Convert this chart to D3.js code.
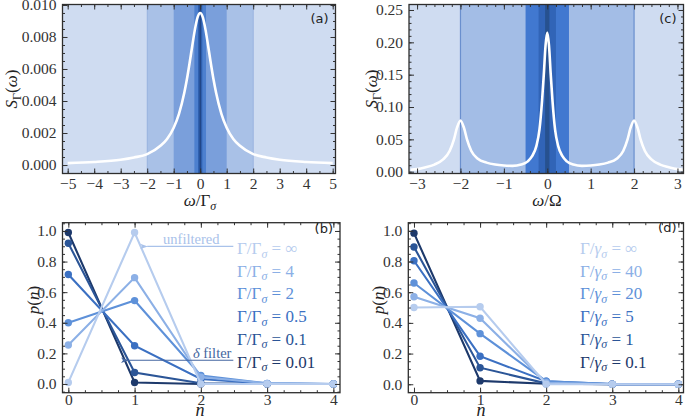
<!DOCTYPE html>
<html><head><meta charset="utf-8">
<script src="https://cdn.jsdelivr.net/npm/d3@7"></script>
<style>body{margin:0;background:#fff}svg{display:block}</style>
</head><body><svg id="c" width="685" height="419"></svg>
<script>
// ---------- DATA ----------
// Panel (a): filtered spectrum
const specAOmega = [-5,-4,-3,-2.5,-2,-1.5,-1.25,-1,-0.8,-0.6,-0.5,-0.4,-0.3,-0.2,-0.1,0,0.1,0.2,0.3,0.4,0.5,0.6,0.8,1,1.25,1.5,2,2.5,3,4,5];
const specAS     = [0.00012,0.00019,0.00033,0.00047,0.00068,0.0012,0.00163,0.00233,0.0032,0.00451,0.00537,0.00637,0.00744,0.00846,0.00922,0.0095,0.00922,0.00846,0.00744,0.00637,0.00537,0.00451,0.0032,0.00233,0.00163,0.0012,0.00068,0.00047,0.00033,0.00019,0.00012];
const bandsA = [2, 1, 0.22, 0.08, 0.02];           // half-widths of filter bands
// Panel (c): spectrum with side peaks
const specCOmega = [-3.15,-3,-2.8,-2.6,-2.4,-2.25,-2.15,-2.08,-2,-1.92,-1.85,-1.75,-1.6,-1.4,-1.2,-1,-0.8,-0.6,-0.45,-0.35,-0.25,-0.18,-0.12,-0.08,-0.04,0,0.04,0.08,0.12,0.18,0.25,0.35,0.45,0.6,0.8,1,1.2,1.4,1.6,1.75,1.85,1.92,2,2.08,2.15,2.25,2.4,2.6,2.8,3,3.15];
const specCS     = [0.003,0.004,0.007,0.011,0.019,0.032,0.05,0.068,0.079,0.068,0.05,0.032,0.02,0.014,0.011,0.0095,0.009,0.011,0.016,0.024,0.04,0.065,0.11,0.15,0.195,0.215,0.195,0.15,0.11,0.065,0.04,0.024,0.016,0.011,0.009,0.0095,0.011,0.014,0.02,0.032,0.05,0.068,0.079,0.068,0.05,0.032,0.019,0.011,0.007,0.004,0.003];
const bandsC = [2, 0.5, 0.2, 0.05];
// Panels (b),(d): photon number distributions
const nVals = [0,1,2,3,4];
const labelsB = ["∞","4","2","0.5","0.1","0.01"];
const pB_inf = [0.01,0.99,0.0,0,0];
const pB_4   = [0.255,0.695,0.045,0.004,0];
const pB_2   = [0.40,0.545,0.055,0.004,0];
const pB_05  = [0.715,0.25,0.033,0.002,0];
const pB_01  = [0.92,0.075,0.005,0,0];
const pB_001 = [0.99,0.01,0.0,0,0];
const labelsD = ["∞","40","20","5","1","0.1"];
const pD_inf = [0.50,0.505,0.0,0,0];
const pD_40  = [0.57,0.43,0.01,0,0];
const pD_20  = [0.66,0.33,0.02,0.001,0];
const pD_5   = [0.805,0.183,0.02,0.001,0];
const pD_1   = [0.895,0.108,0.006,0,0];
const pD_01  = [0.985,0.022,0.003,0,0];
// ticks
const aXTicks = [-5,-4,-3,-2,-1,0,1,2,3,4,5];
const aYTicks = [0,0.002,0.004,0.006,0.008,0.010];
const cXTicks = [-3,-2,-1,0,1,2,3];
const cYTicks = [0,0.05,0.10,0.15,0.20,0.25];
const pXTicks = [0,1,2,3,4];
const pYTicks = [0,0.2,0.4,0.6,0.8,1.0];

// ---------- STYLE ----------
const seriesColors = ["#b6ccee","#8cb0e6","#5e91d9","#3b70c2","#2b5597","#1d396b"]; // light -> dark
const bandColorsA = ["#a9c1e7","#7a9fdb","#4d80cf","#2f5fae","#1c3d78"];
const bandColorsC = ["#a3bde6","#4178d0","#3164b7","#27518f"];
const bgBand = "#cfdcf1";
const SERIF = "'Liberation Serif','DejaVu Serif',serif";

const svg = d3.select("#c");

function panel(cfg){
  const x = d3.scaleLinear().domain(cfg.xd).range([cfg.l,cfg.r]);
  const y = d3.scaleLinear().domain(cfg.yd).range([cfg.b,cfg.t]);
  const g = svg.append("g");
  const id = "clip"+cfg.name;
  svg.append("clipPath").attr("id",id).append("rect")
     .attr("x",cfg.l).attr("y",cfg.t).attr("width",cfg.r-cfg.l).attr("height",cfg.b-cfg.t);
  const plot = g.append("g").attr("clip-path",`url(#${id})`);
  return {x,y,g,plot,cfg};
}
function axes(P){
  const {x,y,g,cfg} = P;
  const styleAx = sel => { sel.attr("color","#333").attr("font-family",SERIF).attr("font-size",15.5);
     sel.select(".domain").remove(); sel.selectAll("line").attr("stroke-width",1); };
  g.append("g").attr("transform",`translate(0,${cfg.b})`)
   .call(d3.axisBottom(x).tickValues(cfg.xt).tickSizeInner(-5).tickSizeOuter(0).tickPadding(cfg.xpad).tickFormat(cfg.xf)).call(styleAx);
  g.append("g").attr("transform",`translate(0,${cfg.t})`)
   .call(d3.axisTop(x).tickValues(cfg.xt).tickSizeInner(-5).tickSizeOuter(0).tickFormat("")).call(styleAx);
  g.append("g").attr("transform",`translate(${cfg.l},0)`)
   .call(d3.axisLeft(y).tickValues(cfg.yt).tickSizeInner(-5).tickSizeOuter(0).tickPadding(6).tickFormat(cfg.yf)).call(styleAx);
  g.append("g").attr("transform",`translate(${cfg.r},0)`)
   .call(d3.axisRight(y).tickValues(cfg.yt).tickSizeInner(-5).tickSizeOuter(0).tickFormat("")).call(styleAx);
  const xm = d3.range(Math.ceil(cfg.xd[0]/cfg.xms)*cfg.xms, cfg.xd[1], cfg.xms);
  const ym = d3.range(Math.ceil(cfg.yd[0]/cfg.yms)*cfg.yms, cfg.yd[1], cfg.yms);
  g.append("g").attr("transform",`translate(0,${cfg.b})`).call(d3.axisBottom(x).tickValues(xm).tickSize(-2.5).tickFormat("")).call(styleAx);
  g.append("g").attr("transform",`translate(0,${cfg.t})`).call(d3.axisTop(x).tickValues(xm).tickSize(-2.5).tickFormat("")).call(styleAx);
  g.append("g").attr("transform",`translate(${cfg.l},0)`).call(d3.axisLeft(y).tickValues(ym).tickSize(-2.5).tickFormat("")).call(styleAx);
  g.append("g").attr("transform",`translate(${cfg.r},0)`).call(d3.axisRight(y).tickValues(ym).tickSize(-2.5).tickFormat("")).call(styleAx);
  g.append("rect").attr("x",cfg.l).attr("y",cfg.t).attr("width",cfg.r-cfg.l).attr("height",cfg.b-cfg.t)
   .attr("fill","none").attr("stroke","#2e2e2e").attr("stroke-width",1.3);
  g.append("text").attr("x",cfg.r-7).attr("y",cfg.t+cfg.lblDy).attr("text-anchor","end")
   .attr("font-family","'DejaVu Sans',sans-serif").attr("font-size",13).attr("fill","#222").text(cfg.label);
}

// ---------- PANEL (a) ----------
const A = panel({name:"a",l:62.5,r:335.5,t:4.5,b:173.5,xd:[-5.196,5.106],yd:[-0.00053,0.01003]});
A.plot.append("rect").attr("x",A.cfg.l).attr("y",A.cfg.t).attr("width",A.cfg.r-A.cfg.l).attr("height",A.cfg.b-A.cfg.t).attr("fill",bgBand);
A.plot.selectAll(".band").data(bandsA).enter().append("rect")
  .attr("x",d=>A.x(-d)).attr("width",d=>A.x(d)-A.x(-d)).attr("y",A.cfg.t).attr("height",A.cfg.b-A.cfg.t)
  .attr("fill",(d,i)=>bandColorsA[i]).attr("stroke",(d,i)=>i===0?"#90acdc":"none").attr("stroke-width",0.8);
A.plot.append("path").datum(specAOmega.map((w,i)=>[w,specAS[i]]))
  .attr("d",d3.line().x(d=>A.x(d[0])).y(d=>A.y(d[1])).curve(d3.curveMonotoneX))
  .attr("fill","none").attr("stroke","#fff").attr("stroke-width",2.6);
Object.assign(A.cfg,{xt:aXTicks,yt:aYTicks,xf:d3.format("d"),yf:d3.format(".3f"),xpad:4,xms:0.5,yms:0.0005,label:"(a)",lblDy:18});
axes(A);

// ---------- PANEL (c) ----------
const C = panel({name:"c",l:409,r:683.5,t:4.5,b:173.5,xd:[-3.186,3.139],yd:[-0.0028,0.2585]});
C.plot.append("rect").attr("x",C.cfg.l).attr("y",C.cfg.t).attr("width",C.cfg.r-C.cfg.l).attr("height",C.cfg.b-C.cfg.t).attr("fill",bgBand);
C.plot.selectAll(".band").data(bandsC).enter().append("rect")
  .attr("x",d=>C.x(-d)).attr("width",d=>C.x(d)-C.x(-d)).attr("y",C.cfg.t).attr("height",C.cfg.b-C.cfg.t)
  .attr("fill",(d,i)=>bandColorsC[i]).attr("stroke",(d,i)=>i===0?"#6a8fce":"none").attr("stroke-width",1.2);
C.plot.append("path").datum(specCOmega.map((w,i)=>[w,specCS[i]]))
  .attr("d",d3.line().x(d=>C.x(d[0])).y(d=>C.y(d[1])).curve(d3.curveMonotoneX))
  .attr("fill","none").attr("stroke","#fff").attr("stroke-width",2.6);
Object.assign(C.cfg,{xt:cXTicks,yt:cYTicks,xf:d3.format("d"),yf:d3.format(".2f"),xpad:4,xms:0.2,yms:0.01,label:"(c)",lblDy:18});
axes(C);

// ---------- PANELS (b),(d) ----------
function distPanel(P, series, labels, sym, legendX){
  const line = d3.line().x((d,i)=>P.x(nVals[i])).y(d=>P.y(d));
  const order = [5,4,3,2,1,0];
  order.forEach(k=>{
    const s = series[k];
    P.plot.append("path").datum(s).attr("d",line).attr("fill","none")
      .attr("stroke",seriesColors[k]).attr("stroke-width",2.1);
    P.plot.selectAll(null).data(s).enter().append("circle")
      .attr("cx",(d,i)=>P.x(nVals[i])).attr("cy",d=>P.y(d)).attr("r",3.7).attr("fill",seriesColors[k]);
  });
  labels.forEach((lab,i)=>{
    const t = P.g.append("text").attr("x",legendX).attr("y",254+i*22.7)
      .attr("font-family",SERIF).attr("font-size",17).attr("fill",seriesColors[i]);
    t.append("tspan").text("Γ/");
    if(sym==="Γ") t.append("tspan").text("Γ");
    else t.append("tspan").attr("font-style","italic").text("γ");
    t.append("tspan").attr("font-style","italic").attr("font-size",12).attr("dy",3.5).text("σ");
    t.append("tspan").attr("dy",-3.5).text(" = "+lab);
  });
}
const B = panel({name:"b",l:62.5,r:340,t:222.7,b:392.7,xd:[-0.088,4.10],yd:[-0.057,1.054]});
distPanel(B,[pB_inf,pB_4,pB_2,pB_05,pB_01,pB_001],labelsB,"Γ",237);
Object.assign(B.cfg,{xt:pXTicks,yt:pYTicks,xf:d3.format("d"),yf:d3.format(".1f"),xpad:1.5,xms:0.25,yms:0.05,label:"(b)",lblDy:10});
axes(B);

const defs = svg.append("defs");
function arrowMarker(id,color){
  defs.append("marker").attr("id",id).attr("viewBox","0 0 10 10").attr("refX",1).attr("refY",5)
    .attr("markerWidth",7).attr("markerHeight",7).attr("orient","auto-start-reverse")
    .append("path").attr("d","M0,5 L10,1.5 L7.5,5 L10,8.5 Z").attr("fill",color);
}
arrowMarker("arrL","#a9c2ea"); arrowMarker("arrD","#4466a0");
B.g.append("line").attr("x1",B.x(2.49)).attr("x2",B.x(1.19)).attr("y1",B.y(0.899)).attr("y2",B.y(0.899))
  .attr("stroke","#a9c2ea").attr("stroke-width",1.1).attr("marker-end","url(#arrL)");
B.g.append("text").attr("x",B.x(1.43)).attr("y",B.y(0.915)).attr("font-family",SERIF).attr("font-size",14.5)
  .attr("fill","#a9c2ea").text("unfiltered");
B.g.append("line").attr("x1",B.x(2.49)).attr("x2",B.x(0.90)).attr("y1",B.y(0.155)).attr("y2",B.y(0.155))
  .attr("stroke","#4466a0").attr("stroke-width",1.1).attr("marker-end","url(#arrD)");
const tf = B.g.append("text").attr("x",B.x(1.88)).attr("y",B.y(0.17)).attr("font-family",SERIF).attr("font-size",14.5).attr("fill","#4466a0");
tf.append("tspan").attr("font-style","italic").text("δ");
tf.append("tspan").text(" filter");

const D = panel({name:"d",l:408.3,r:683.5,t:222.7,b:392.7,xd:[-0.086,4.078],yd:[-0.055,1.053]});
distPanel(D,[pD_inf,pD_40,pD_20,pD_5,pD_1,pD_01],labelsD,"γ",580);
Object.assign(D.cfg,{xt:pXTicks,yt:pYTicks,xf:d3.format("d"),yf:d3.format(".1f"),xpad:1.5,xms:0.25,yms:0.05,label:"(d)",lblDy:9});
axes(D);

// ---------- AXIS TITLES ----------
function ylab(x,y,kind){
  const t = svg.append("text").attr("transform",`translate(${x},${y}) rotate(-90)`).attr("text-anchor","middle")
    .attr("font-family",SERIF).attr("font-size",17).attr("fill","#222");
  if(kind==="S"){
    t.append("tspan").attr("font-style","italic").text("S");
    t.append("tspan").attr("font-size",12).attr("dy",3.5).text("Γ");
    t.append("tspan").attr("dy",-3.5).text("(");
    t.append("tspan").attr("font-style","italic").text("ω");
    t.append("tspan").text(")");
  } else {
    t.append("tspan").attr("font-style","italic").text("p");
    t.append("tspan").text("(");
    t.append("tspan").attr("font-style","italic").text("n");
    t.append("tspan").text(")");
  }
}
ylab(17,89,"S"); ylab(377,89,"S"); ylab(39,300,"p"); ylab(384,300,"p");

function xlab(x,y,kind,fs){
  const t = svg.append("text").attr("x",x).attr("y",y).attr("text-anchor","middle")
    .attr("font-family",SERIF).attr("font-size",fs).attr("fill","#222");
  if(kind==="wG"){
    t.append("tspan").attr("font-style","italic").text("ω");
    t.append("tspan").text("/Γ");
    t.append("tspan").attr("font-style","italic").attr("font-size",12).attr("dy",3.5).text("σ");
  } else if(kind==="wO"){
    t.append("tspan").attr("font-style","italic").text("ω");
    t.append("tspan").text("/Ω");
  } else {
    t.append("tspan").attr("font-style","italic").text("n");
  }
}
xlab(200,206,"wG",17); xlab(547,206,"wO",17); xlab(200,415.5,"n",18); xlab(481,415.5,"n",18);
</script></body></html>
